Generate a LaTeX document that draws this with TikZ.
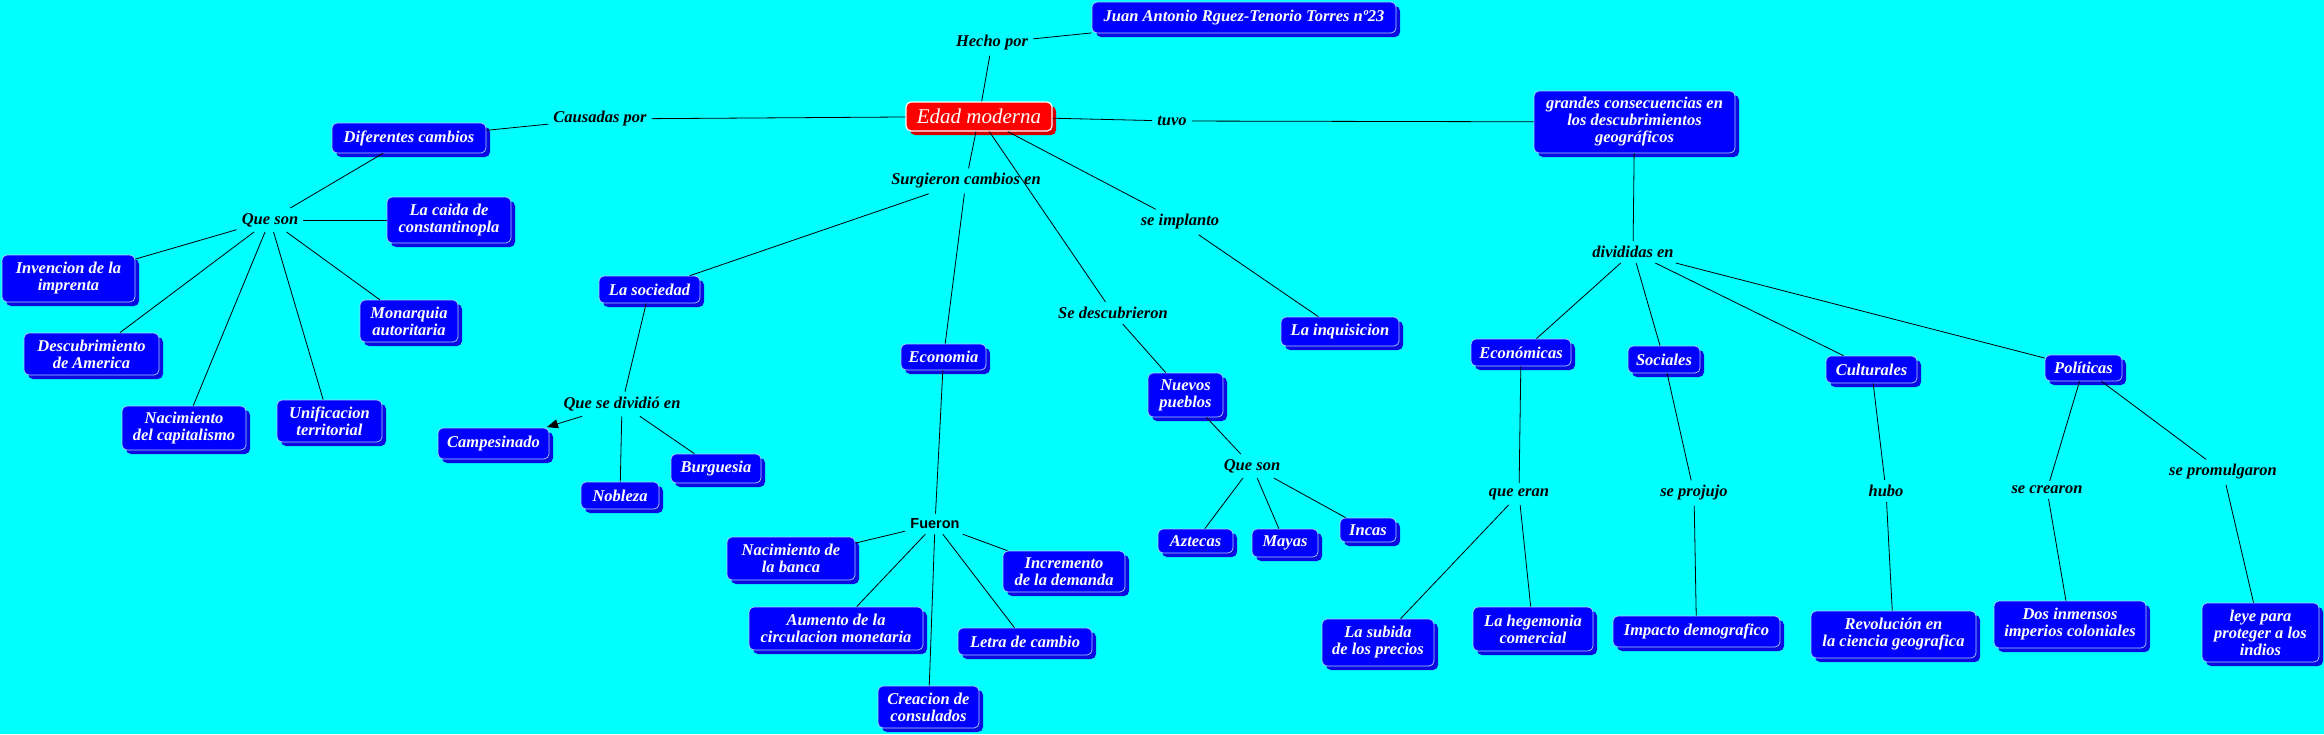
\documentclass[tikz,border=0pt]{standalone}
\usepackage{fontspec}
\setmainfont{Liberation Serif}
\newfontfamily\sansb{Liberation Sans}
\usetikzlibrary{shadows,arrows.meta}
\definecolor{bg}{RGB}{0,255,255}
\definecolor{boxblue}{RGB}{0,0,255}
\definecolor{shadowblue}{RGB}{10,10,225}
\definecolor{boxedge}{RGB}{170,210,255}
\definecolor{edadred}{RGB}{255,0,0}
\definecolor{edadshadow}{RGB}{215,0,0}
\tikzset{
  box/.style={rounded corners=5pt, fill=boxblue, draw=boxedge, line width=0.7pt,
    text=white, align=center, inner sep=2pt,
    font=\fontsize{16.5}{17}\selectfont\bfseries\itshape,
    drop shadow={shadow xshift=4pt, shadow yshift=-4pt, fill=shadowblue, opacity=1}},
  edadbox/.style={rounded corners=5pt, fill=edadred, draw=white, line width=1.2pt,
    text=white, align=center, inner sep=2pt,
    font=\fontsize{21}{22}\selectfont\itshape,
    drop shadow={shadow xshift=4pt, shadow yshift=-4pt, fill=edadshadow, opacity=1}},
  lab/.style={font=\fontsize{16.5}{17}\selectfont\bfseries\itshape, text=black, inner sep=5pt},
  sanslab/.style={font=\fontsize{14.5}{16}\selectfont\sansb\bfseries, text=black, inner sep=5pt},
  conn/.style={draw=black, line width=0.8pt},
  conarrow/.style={conn, -{Triangle[length=11pt,width=9pt]}, shorten >=2pt},
}
\begin{document}
\begin{tikzpicture}[x=1pt,y=-1pt]
\fill[bg] (0,0) rectangle (2324,734);
\useasboundingbox (0,0) rectangle (2324,734);

% boxes
\node[box, minimum width=304pt, minimum height=31pt] (juan) at (1244,17.5) {Juan Antonio Rguez-Tenorio Torres nº23};
\node[edadbox, minimum width=146pt, minimum height=29pt] (edad) at (979,116.5) {Edad moderna};
\node[box, minimum width=154pt, minimum height=30pt] (dif) at (409,138) {Diferentes cambios};
\node[box, minimum width=124pt, minimum height=46pt] (caida) at (449,220) {La caida de\\constantinopla};
\node[box, minimum width=133pt, minimum height=47pt] (inv) at (68.5,278.5) {Invencion de la\\imprenta};
\node[box, minimum width=98pt, minimum height=42pt] (mon) at (409,321) {Monarquia\\autoritaria};
\node[box, minimum width=135pt, minimum height=42pt] (desc) at (91.5,354) {Descubrimiento\\de America};
\node[box, minimum width=124pt, minimum height=44pt] (nacc) at (184,428) {Nacimiento\\del capitalismo};
\node[box, minimum width=105pt, minimum height=42pt] (unif) at (329.5,421) {Unificacion\\territorial};
\node[box, minimum width=101pt, minimum height=27pt] (soc) at (649.5,289.5) {La sociedad};
\node[box, minimum width=111pt, minimum height=31pt] (camp) at (493.5,443.5) {Campesinado};
\node[box, minimum width=78pt, minimum height=27pt] (nob) at (620,495.5) {Nobleza};
\node[box, minimum width=90pt, minimum height=29pt] (burg) at (716,468.5) {Burguesia};
\node[box, minimum width=85pt, minimum height=26pt] (eco) at (943.5,357) {Economia};
\node[box, minimum width=128pt, minimum height=43pt] (banca) at (791,558.5) {Nacimiento de\\la banca};
\node[box, minimum width=174pt, minimum height=43pt] (aum) at (836,628.5) {Aumento de la\\circulacion monetaria};
\node[box, minimum width=101pt, minimum height=42pt] (crea) at (928.5,707) {Creacion de\\consulados};
\node[box, minimum width=134pt, minimum height=27pt] (letra) at (1025,641.5) {Letra de cambio};
\node[box, minimum width=122pt, minimum height=41pt] (incr) at (1064,571.5) {Incremento\\de la demanda};
\node[box, minimum width=75pt, minimum height=44pt] (nuev) at (1185.5,395) {Nuevos\\pueblos};
\node[box, minimum width=118pt, minimum height=29pt] (inq) at (1340,331.5) {La inquisicion};
\node[box, minimum width=75pt, minimum height=24pt] (azt) at (1195.5,541) {Aztecas};
\node[box, minimum width=66pt, minimum height=28pt] (may) at (1285,543) {Mayas};
\node[box, minimum width=56pt, minimum height=24pt] (inc) at (1368,530) {Incas};
\node[box, minimum width=201pt, minimum height=62pt] (gran) at (1634.5,122) {grandes consecuencias en\\los descubrimientos\\geográficos};
\node[box, minimum width=100pt, minimum height=27pt] (econ) at (1521,352.5) {Económicas};
\node[box, minimum width=72pt, minimum height=27pt] (soci) at (1664,359.5) {Sociales};
\node[box, minimum width=91pt, minimum height=27pt] (cult) at (1871.5,369.5) {Culturales};
\node[box, minimum width=77pt, minimum height=26pt] (pol) at (2083.5,368) {Políticas};
\node[box, minimum width=112pt, minimum height=47pt] (sub) at (1378,642.5) {La subida\\de los precios};
\node[box, minimum width=120pt, minimum height=44pt] (heg) at (1533,629) {La hegemonia\\comercial};
\node[box, minimum width=167pt, minimum height=31pt] (imp) at (1696.5,631.5) {Impacto demografico};
\node[box, minimum width=165pt, minimum height=47pt] (rev) at (1893.5,634.5) {Revolución en\\la ciencia geografica};
\node[box, minimum width=152pt, minimum height=47pt] (dos) at (2070,624.5) {Dos inmensos\\imperios coloniales};
\node[box, minimum width=117pt, minimum height=59pt] (leye) at (2260.5,632.5) {leye para\\proteger a los\\indios};

% linking phrases
\node[lab] (hecho) at (992,43) {Hecho por};
\node[lab] (caus) at (600,119) {Causadas por};
\node[lab] (tuvo) at (1172,121) {tuvo};
\node[lab] (queson1) at (270,220) {Que son};
\node[lab] (surg) at (966,181) {Surgieron cambios en};
\node[lab] (impl) at (1180,222) {se implanto};
\node[lab] (descub) at (1113,313) {Se descubrieron};
\node[lab] (div) at (622,404) {Que se dividió en};
\node[sanslab] (fue) at (935,524) {Fueron};
\node[lab] (queson2) at (1252,466) {Que son};
\node[lab] (divi) at (1633,252) {divididas en};
\node[lab] (qera) at (1519,494) {que eran};
\node[lab] (proj) at (1694,493) {se projujo};
\node[lab] (hubo) at (1886,491) {hubo};
\node[lab] (crear) at (2047,490) {se crearon};
\node[lab] (prom) at (2223,472) {se promulgaron};

% connectors
\draw[conn] (edad) -- (hecho);
\draw[conn] (hecho) -- (juan);
\draw[conn] (dif) -- (caus);
\draw[conn] (caus) -- (edad);
\draw[conn] (edad) -- (tuvo);
\draw[conn] (tuvo) -- (gran);

\draw[conn] (dif) -- (queson1);
\draw[conn] (queson1) -- (caida);
\draw[conn] (queson1) -- (inv);
\draw[conn] (queson1) -- (desc);
\draw[conn] (queson1) -- (nacc);
\draw[conn] (queson1) -- (unif);
\draw[conn] (queson1) -- (mon);

\draw[conn] (edad) -- (surg);
\draw[conn] (surg) -- (soc);
\draw[conn] (surg) -- (eco);
\draw[conn] (edad) -- (impl);
\draw[conn] (impl) -- (inq);
\draw[conn] (edad) -- (descub);
\draw[conn] (descub) -- (nuev);
\draw[conn] (nuev) -- (queson2);
\draw[conn] (queson2) -- (azt);
\draw[conn] (queson2) -- (may);
\draw[conn] (queson2) -- (inc);

\draw[conn] (soc) -- (div);
\draw[conarrow] (div) -- (camp);
\draw[conn] (div) -- (nob);
\draw[conn] (div) -- (burg);

\draw[conn] (eco) -- (fue);
\draw[conn] (fue) -- (banca);
\draw[conn] (fue) -- (aum);
\draw[conn] (fue) -- (crea);
\draw[conn] (fue) -- (letra);
\draw[conn] (fue) -- (incr);

\draw[conn] (gran) -- (divi);
\draw[conn] (divi) -- (econ);
\draw[conn] (divi) -- (soci);
\draw[conn] (divi) -- (cult);
\draw[conn] (divi) -- (pol);
\draw[conn] (econ) -- (qera);
\draw[conn] (qera) -- (sub);
\draw[conn] (qera) -- (heg);
\draw[conn] (soci) -- (proj);
\draw[conn] (proj) -- (imp);
\draw[conn] (cult) -- (hubo);
\draw[conn] (hubo) -- (rev);
\draw[conn] (pol) -- (crear);
\draw[conn] (crear) -- (dos);
\draw[conn] (pol) -- (prom);
\draw[conn] (prom) -- (leye);
\end{tikzpicture}
\end{document}
